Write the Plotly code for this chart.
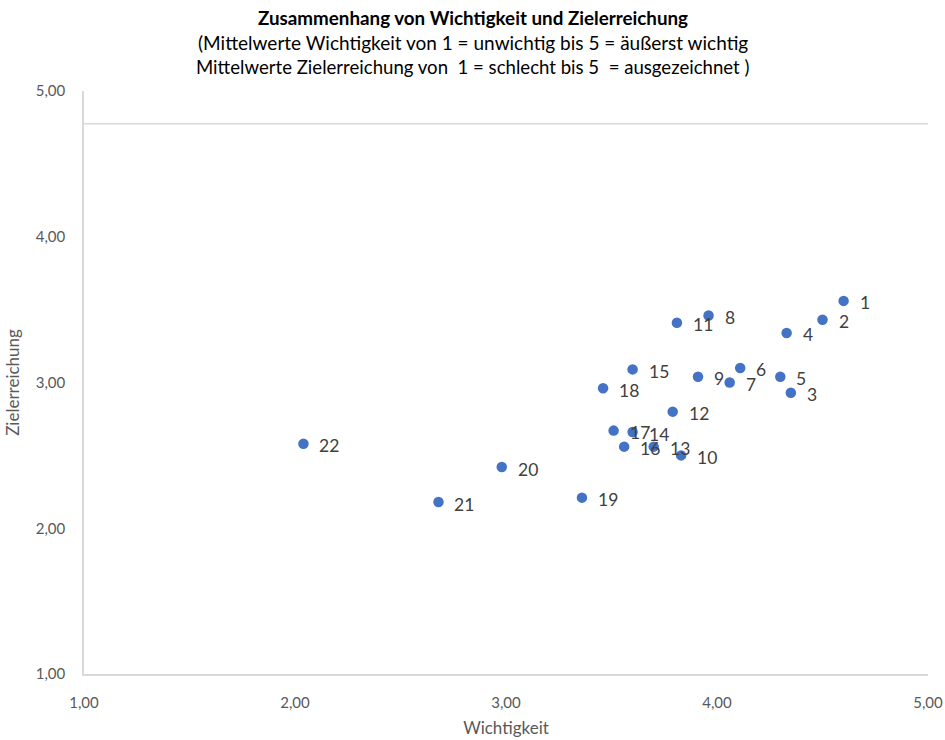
import plotly.graph_objects as go

labels = [str(i) for i in range(1, 23)]
wichtigkeit = [4.60, 4.50, 4.35, 4.33, 4.30, 4.11, 4.06, 3.96, 3.91, 3.83, 3.81,
               3.79, 3.70, 3.60, 3.60, 3.56, 3.51, 3.46, 3.36, 2.98, 2.68, 2.04]
zielerreichung = [3.56, 3.43, 2.93, 3.34, 3.04, 3.10, 3.00, 3.46, 3.04, 2.50, 3.41,
                  2.80, 2.56, 2.66, 3.09, 2.56, 2.67, 2.96, 2.21, 2.42, 2.18, 2.58]

title = "Zusammenhang von Wichtigkeit und Zielerreichung"
subtitle1 = "(Mittelwerte Wichtigkeit von 1 = unwichtig bis 5 = äußerst wichtig"
subtitle2 = "Mittelwerte Zielerreichung von  1 = schlecht bis 5  = ausgezeichnet )"
tickvals = [1, 2, 3, 4, 5]

FONT = "Lato"
GRAY = "#D9D9D9"
TXT = "#595959"

W, H = 945, 740
ML, MR, MT, MB = 84, 17, 91, 66
PW, PH = W - ML - MR, H - MT - MB


def px_to_paper_x(px):
    return (px - ML) / PW


def px_to_paper_y(py):
    return (H - MB - py) / PH


fig = go.Figure()
fig.add_trace(go.Scatter(
    x=wichtigkeit, y=zielerreichung, text=labels,
    mode="markers",
    marker=dict(size=10.5, color="#4472C4"),
    hoverinfo="x+y+text", showlegend=False, cliponaxis=False,
))

annotations = []
for xv, yv, lab in zip(wichtigkeit, zielerreichung, labels):
    annotations.append(dict(
        x=xv, y=yv, xref="x", yref="y", text=lab, showarrow=False,
        xanchor="left", yanchor="middle", xshift=14, yshift=-2,
        font=dict(family=FONT, size=17.5, color="#404040"),
    ))

for text, py, bold, size in [(title, 17, True, 18.8), (subtitle1, 43, False, 19),
                             (subtitle2, 67, False, 18.6)]:
    annotations.append(dict(
        x=px_to_paper_x(472.5), y=px_to_paper_y(py), xref="paper", yref="paper",
        text=("<b>" + text + "</b>") if bold else text, showarrow=False,
        xanchor="center", yanchor="middle",
        font=dict(family=FONT, size=size, color="#000000"),
    ))

fig.update_layout(
    width=W, height=H,
    margin=dict(l=ML, r=MR, t=MT, b=MB),
    paper_bgcolor="white", plot_bgcolor="white",
    separators=",.",
    font=dict(family=FONT, color=TXT, size=15),
    xaxis=dict(range=[1, 5], tickvals=tickvals, tickformat=".2f", automargin=False,
               showgrid=False, zeroline=False, showline=True, linecolor=GRAY,
               linewidth=1.5, ticks="", ticklabelstandoff=14, ticklabeloverflow="allow",
               tickfont=dict(size=15, color=TXT),
               title=dict(text="Wichtigkeit", font=dict(size=17, color=TXT), standoff=12)),
    yaxis=dict(range=[1, 5], tickvals=tickvals, tickformat=".2f", automargin=False,
               showgrid=False, zeroline=False, showline=True, linecolor=GRAY,
               linewidth=1.5, ticks="", ticklabelstandoff=14,
               tickfont=dict(size=15, color=TXT),
               title=dict(text="Zielerreichung", font=dict(size=17, color=TXT), standoff=12)),
    shapes=[
        dict(type="line", xref="x", yref="y", x0=0.915, x1=5.01, y0=4.775, y1=4.775,
             line=dict(color=GRAY, width=1.5)),
        dict(type="line", xref="x", yref="y", x0=5.01, x1=5.01, y0=1.03, y1=4.775,
             line=dict(color=GRAY, width=1.5)),
    ],
    annotations=annotations,
)

fig.write_html("out.html",
               config={"displayModeBar": False},
               post_script="document.body.style.margin='0';document.body.style.overflow='hidden';")
